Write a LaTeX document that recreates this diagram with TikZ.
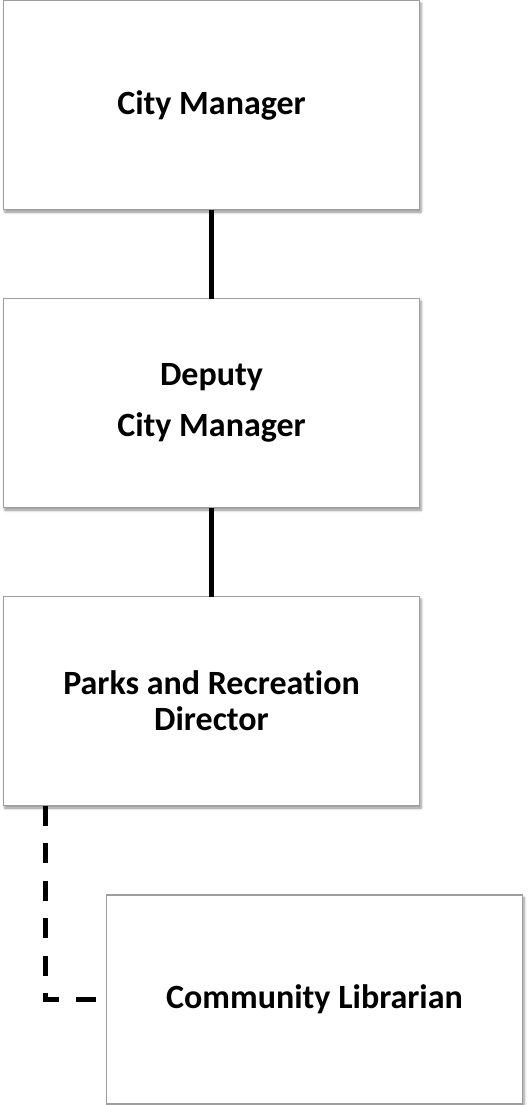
\documentclass[tikz,border=0pt]{standalone}
\usepackage{fontspec}
\setmainfont{Carlito}[Ligatures=NoCommon]
\usetikzlibrary{shadows.blur}
\begin{document}
\begin{tikzpicture}[x=1pt,y=-1pt,
  orgbox/.style={rectangle, draw=black!38, line width=1.3pt, fill=white,
    minimum width=416pt, minimum height=209pt, inner sep=0pt, outer sep=0pt,
    align=center, font=\fontsize{34}{36}\selectfont\bfseries,
    blur shadow={shadow xshift=1.5pt, shadow yshift=-2.5pt,
      shadow blur radius=2.5pt, shadow opacity=45}},
  solidlink/.style={line width=5pt, black},
  dashlink/.style={line width=5pt, black, dash pattern=on 20pt off 17.5pt}]
  \useasboundingbox (0,0) rectangle (529,1105);
  % reporting chain
  \node[orgbox] (cm)  at (211.5,105)   {City Manager};
  \node[orgbox] (dcm) at (211.5,403)   {Deputy\\[15pt]City Manager};
  \node[orgbox] (prd) at (211.5,701)   {Parks and Recreation\\Director};
  \node[orgbox] (lib) at (314.5,999.5) {Community Librarian};
  % connectors
  \draw[solidlink] (cm.south) -- (dcm.north);
  \draw[solidlink] (dcm.south) -- (prd.north);
  \draw[dashlink] ([xshift=41.5pt]prd.south west) |- (lib.west);
\end{tikzpicture}
\end{document}
